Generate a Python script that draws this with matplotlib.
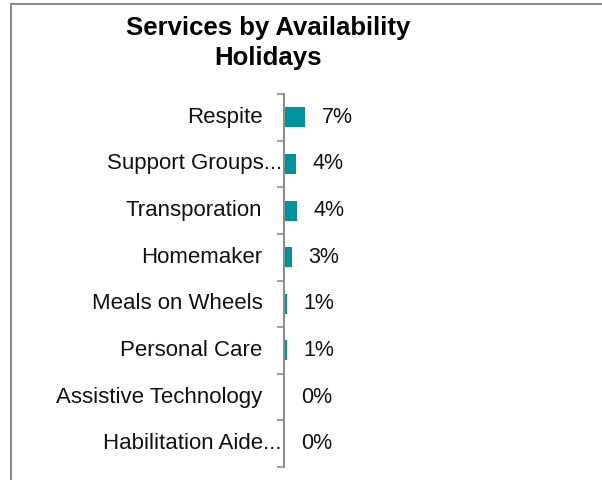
import matplotlib.pyplot as plt
from matplotlib.patches import Rectangle
import matplotlib.transforms as mtransforms
import numpy as np

categories = ["Respite", "Support Groups...", "Transporation", "Homemaker",
              "Meals on Wheels", "Personal Care", "Assistive Technology",
              "Habilitation Aide..."]
shares = [0.071, 0.041, 0.043, 0.026, 0.009, 0.009, 0.0, 0.0]
title = "Services by Availability\nHolidays"

bar_color = "#00919A"
axis_gray = "#8C8C8C"

plt.rcParams["font.family"] = ["Liberation Sans", "DejaVu Sans"]

fig = plt.figure(figsize=(6.02, 4.8), dpi=100)
ax = fig.add_axes([284 / 602, 1 - 467 / 480, 300 / 602, 373 / 480])

y = np.arange(len(categories))
ax.barh(y, shares, height=0.43, color=bar_color, edgecolor="none")
ax.set_xlim(0, 1)
ax.set_ylim(len(categories) - 0.5, -0.5)

# value labels next to bar ends
for yi, v in zip(y, shares):
    ax.annotate(f"{v:.0%}", xy=(v, yi), xytext=(12, 0), textcoords="offset points",
                ha="left", va="center", fontsize=15.5, color="#111111")

# category labels (truncated ones sit closer to the axis, as in the original)
trans = mtransforms.blended_transform_factory(ax.transAxes, ax.transData)
for yi, name in zip(y, categories):
    gap = -1.5 if name.endswith("...") else -15.5
    off = mtransforms.ScaledTranslation(gap / 72, 0, fig.dpi_scale_trans)
    ax.text(0, yi, name, transform=trans + off, ha="right", va="center",
            fontsize=16, color="#111111")

ax.set_yticks([])
ax.set_yticks(np.arange(len(categories) + 1) - 0.5, minor=True)
ax.tick_params(axis="y", which="minor", length=5, width=1.2, color=axis_gray)
ax.set_xticks([])
for side in ["top", "right", "bottom"]:
    ax.spines[side].set_visible(False)
ax.spines["left"].set_color(axis_gray)
ax.spines["left"].set_linewidth(1.5)

fig.text(0.446, 1 - 43 / 480, title, ha="center", va="center",
         fontsize=18.5, fontweight="bold", linespacing=1.32)

# chart area border, running past the right and bottom edges
fig.patches.append(Rectangle((11 / 602, -0.1), 1.2, 1 - 4 / 480 + 0.1,
                             transform=fig.transFigure, fill=False,
                             edgecolor=axis_gray, linewidth=1.5))

fig.savefig("out.png", dpi=100)
